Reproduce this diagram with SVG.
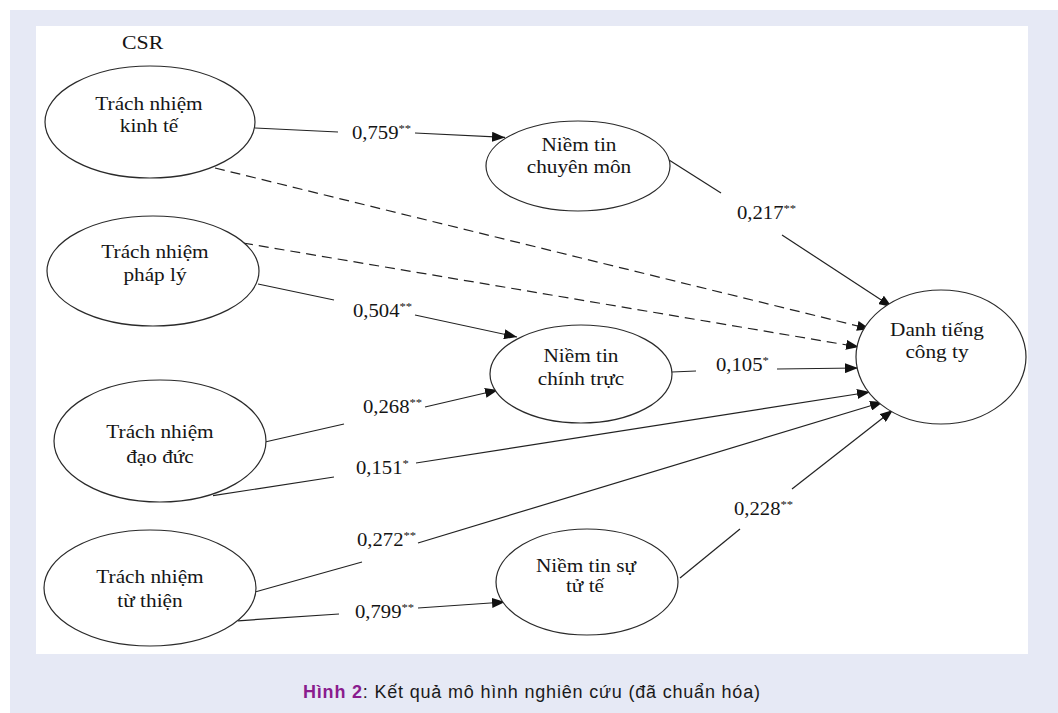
<svg xmlns="http://www.w3.org/2000/svg" width="1058" height="713" viewBox="0 0 1058 713">
<style>
.node ellipse{fill:#fff;stroke:#2a2a2a;stroke-width:1.2}
.t{font-family:"Liberation Serif","Times New Roman",serif;font-size:18.5px;fill:#151515;text-anchor:middle}
.lb{font-family:"Liberation Serif","Times New Roman",serif;font-size:18px;fill:#151515}
.st{font-size:11px}
.c line{stroke:#222;stroke-width:1.2;fill:none}
.c .d{stroke-dasharray:10 6}
.cap{font-family:"Liberation Sans",Arial,sans-serif;font-size:18px;fill:#1a1a1a}
</style>
<defs>
<marker id="ah" markerUnits="userSpaceOnUse" markerWidth="13" markerHeight="10" refX="13" refY="5" orient="auto">
<path d="M0,0 L13,5 L0,10 z" fill="#111"/>
</marker>
</defs>
<rect x="0" y="0" width="1058" height="713" fill="#fff"/>
<rect x="10" y="10" width="1048" height="703" fill="#e6e9f5"/>
<rect x="36" y="26" width="992" height="628" fill="#fff"/>

<text class="lb" transform="translate(122,49) scale(1.15,1)" style="font-size:19px">CSR</text>

<g class="c" id="connectors">
<line x1="255" y1="128" x2="338" y2="132"/>
<line x1="415" y1="133" x2="505" y2="137.4" marker-end="url(#ah)"/>
<line x1="669" y1="160" x2="721" y2="193"/>
<line x1="782" y1="235" x2="892" y2="307" marker-end="url(#ah)"/>
<line class="d" x1="215" y1="168" x2="870" y2="329" marker-end="url(#ah)"/>
<line class="d" x1="243" y1="243" x2="859" y2="347" marker-end="url(#ah)"/>
<line x1="258" y1="284" x2="334" y2="300"/>
<line x1="415" y1="315" x2="517" y2="337" marker-end="url(#ah)"/>
<line x1="265" y1="442" x2="344" y2="424"/>
<line x1="425" y1="407" x2="498" y2="390" marker-end="url(#ah)"/>
<line x1="672" y1="372" x2="696" y2="371"/>
<line x1="777" y1="369" x2="858" y2="368" marker-end="url(#ah)"/>
<line x1="213" y1="495.6" x2="334" y2="477"/>
<line x1="416" y1="463" x2="870" y2="392" marker-end="url(#ah)"/>
<line x1="255" y1="592" x2="362" y2="562"/>
<line x1="418" y1="543" x2="883" y2="402" marker-end="url(#ah)"/>
<line x1="238" y1="620.8" x2="339" y2="614"/>
<line x1="418" y1="608" x2="505" y2="602" marker-end="url(#ah)"/>
<line x1="680" y1="578" x2="740" y2="529"/>
<line x1="792" y1="489" x2="893" y2="410" marker-end="url(#ah)"/>
</g>

<g id="labels">
<text class="lb" transform="translate(352,139) scale(1.15,1)">0,759<tspan class="st" dy="-7">**</tspan></text>
<text class="lb" transform="translate(737,219) scale(1.15,1)">0,217<tspan class="st" dy="-7">**</tspan></text>
<text class="lb" transform="translate(353,317) scale(1.15,1)">0,504<tspan class="st" dy="-7">**</tspan></text>
<text class="lb" transform="translate(363,413) scale(1.15,1)">0,268<tspan class="st" dy="-7">**</tspan></text>
<text class="lb" transform="translate(716,371) scale(1.15,1)">0,105<tspan class="st" dy="-7">*</tspan></text>
<text class="lb" transform="translate(356,474) scale(1.15,1)">0,151<tspan class="st" dy="-7">*</tspan></text>
<text class="lb" transform="translate(357,546) scale(1.15,1)">0,272<tspan class="st" dy="-7">**</tspan></text>
<text class="lb" transform="translate(355,618) scale(1.15,1)">0,799<tspan class="st" dy="-7">**</tspan></text>
<text class="lb" transform="translate(734,515) scale(1.15,1)">0,228<tspan class="st" dy="-7">**</tspan></text>
</g>

<g class="node" id="kinhte">
<ellipse cx="150" cy="122" rx="105" ry="56"/>
<text class="t" transform="translate(149,110) scale(1.15,1)">Trách nhiệm</text>
<text class="t" transform="translate(149,132) scale(1.15,1)">kinh tế</text>
</g>
<g class="node" id="phaply">
<ellipse cx="153" cy="271" rx="106" ry="55"/>
<text class="t" transform="translate(155,258) scale(1.15,1)">Trách nhiệm</text>
<text class="t" transform="translate(155,281) scale(1.15,1)">pháp lý</text>
</g>
<g class="node" id="daoduc">
<ellipse cx="160" cy="441" rx="106" ry="61"/>
<text class="t" transform="translate(160,438) scale(1.15,1)">Trách nhiệm</text>
<text class="t" transform="translate(160,463) scale(1.15,1)">đạo đức</text>
</g>
<g class="node" id="tuthien">
<ellipse cx="150" cy="588" rx="106" ry="58"/>
<text class="t" transform="translate(150,583) scale(1.15,1)">Trách nhiệm</text>
<text class="t" transform="translate(150,607) scale(1.15,1)">từ thiện</text>
</g>
<g class="node" id="chuyenmon">
<ellipse cx="578" cy="166" rx="92" ry="45"/>
<text class="t" transform="translate(579,151) scale(1.15,1)">Niềm tin</text>
<text class="t" transform="translate(579,173) scale(1.15,1)">chuyên môn</text>
</g>
<g class="node" id="chinhtruc">
<ellipse cx="581" cy="374" rx="91" ry="49"/>
<text class="t" transform="translate(581,362) scale(1.15,1)">Niềm tin</text>
<text class="t" transform="translate(581,385) scale(1.15,1)">chính trực</text>
</g>
<g class="node" id="tute">
<ellipse cx="587" cy="582" rx="91" ry="53"/>
<text class="t" transform="translate(586,572) scale(1.15,1)">Niềm tin sự</text>
<text class="t" transform="translate(585,592) scale(1.15,1)">tử tế</text>
</g>
<g class="node" id="danhtieng">
<ellipse cx="941" cy="357" rx="85" ry="67"/>
<text class="t" transform="translate(937,336) scale(1.15,1)">Danh tiếng</text>
<text class="t" transform="translate(937,358) scale(1.15,1)">công ty</text>
</g>

<text class="cap" x="303" y="698" textLength="457" lengthAdjust="spacing"><tspan fill="#8a1c8e" font-weight="bold">Hình 2</tspan>: Kết quả mô hình nghiên cứu (đã chuẩn hóa)</text>
</svg>
